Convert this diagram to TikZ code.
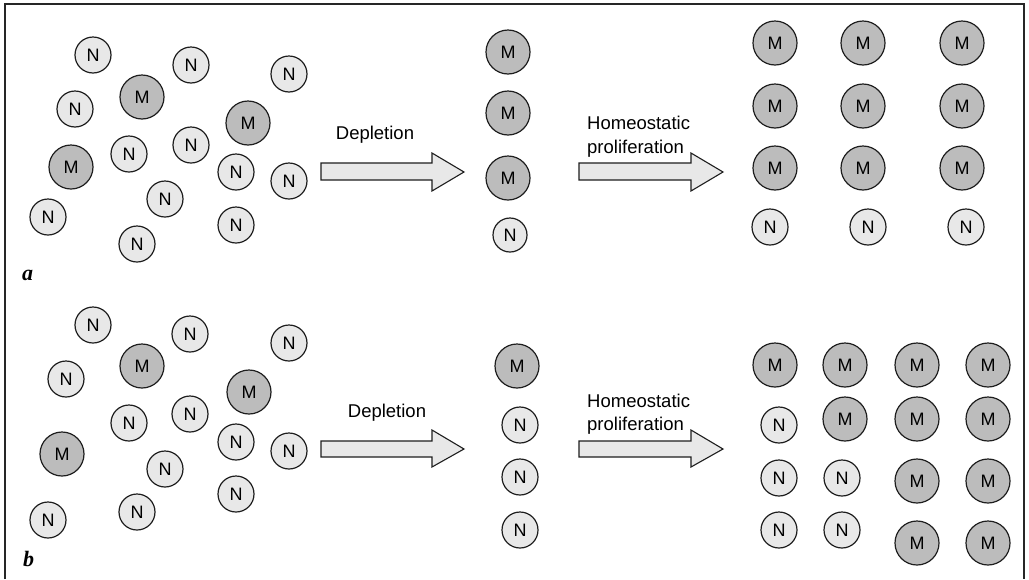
\documentclass[tikz,border=0pt]{standalone}
\usepackage{fontspec}
\setmainfont{Liberation Sans}
\newfontfamily\labelserif{Liberation Serif}
\definecolor{ngray}{HTML}{E8E8E8}
\definecolor{mgray}{HTML}{BCBCBC}
\definecolor{edge}{HTML}{1E1E1E}
\begin{document}
\begin{tikzpicture}[x=1pt,y=-1pt,
  ncell/.style={circle,draw=edge,fill=ngray,line width=1.2pt,minimum size=36pt,inner sep=0pt,font=\fontsize{18}{18}\selectfont},
  mcell/.style={circle,draw=edge,fill=mgray,line width=1.2pt,minimum size=44pt,inner sep=0pt,font=\fontsize{18}{18}\selectfont},
  blockarrow/.style={draw=edge,fill=ngray,line width=1.1pt,line join=miter},
  caption/.style={font=\fontsize{18.5}{22}\selectfont,inner sep=0pt},
  panellabel/.style={font=\labelserif\bfseries\itshape\fontsize{22}{22}\selectfont,inner sep=0pt,anchor=base west}]
\useasboundingbox (0,0) rectangle (1029,579);
\fill[white] (0,0) rectangle (1029,579);
\draw[line width=2pt,color=black!85] (5,579) -- (5,4) -- (1024,4) -- (1024,579);

% ---------- panel a : left cluster ----------
\node[ncell] (a1) at (93,55) {N};
\node[ncell] (a2) at (191,65) {N};
\node[ncell] (a3) at (289,74) {N};
\node[ncell] (a4) at (75,109) {N};
\node[mcell] (a5) at (142,97) {M};
\node[mcell] (a6) at (248,123) {M};
\node[ncell] (a7) at (191,145) {N};
\node[ncell] (a8) at (129,154) {N};
\node[mcell] (a9) at (71,167) {M};
\node[ncell] (a10) at (236,172) {N};
\node[ncell] (a11) at (289,181) {N};
\node[ncell] (a12) at (165,199) {N};
\node[ncell] (a13) at (48,217) {N};
\node[ncell] (a14) at (236,225) {N};
\node[ncell] (a15) at (137,244) {N};
\node[panellabel] (la) at (22,280) {a};

% arrows a
\draw[blockarrow] (321,163) -- (432,163) -- (432,153) -- (464,172) -- (432,191) -- (432,180) -- (321,180) -- cycle;
\node[caption,anchor=base] (dep1) at (375,139) {Depletion};
\draw[blockarrow] (579,163) -- (691,163) -- (691,153) -- (723,172) -- (691,191) -- (691,180) -- (579,180) -- cycle;
\node[caption,anchor=base west] (hom1) at (587,129) {Homeostatic};
\node[caption,anchor=base west] (pro1) at (587,153) {proliferation};

% middle a
\node[mcell] (am1) at (508,52) {M};
\node[mcell] (am2) at (508,113) {M};
\node[mcell] (am3) at (508,178) {M};
\node[ncell,minimum size=34pt] (am4) at (510,235) {N};

% right a
\node[mcell] (ar1) at (775,43) {M};
\node[mcell] (ar2) at (863,43) {M};
\node[mcell] (ar3) at (962,43) {M};
\node[mcell] (ar4) at (775,106) {M};
\node[mcell] (ar5) at (863,106) {M};
\node[mcell] (ar6) at (962,106) {M};
\node[mcell] (ar7) at (775,168) {M};
\node[mcell] (ar8) at (863,168) {M};
\node[mcell] (ar9) at (962,168) {M};
\node[ncell] (ar10) at (770,227) {N};
\node[ncell] (ar11) at (868,227) {N};
\node[ncell] (ar12) at (966,227) {N};

% ---------- panel b : left cluster ----------
\node[ncell] (b1) at (93,325) {N};
\node[ncell] (b2) at (190,334) {N};
\node[ncell] (b3) at (289,343) {N};
\node[mcell] (b4) at (142,366) {M};
\node[ncell] (b5) at (66,379) {N};
\node[mcell] (b6) at (249,392) {M};
\node[ncell] (b7) at (190,414) {N};
\node[ncell] (b8) at (129,423) {N};
\node[mcell] (b9) at (62,454) {M};
\node[ncell] (b10) at (236,442) {N};
\node[ncell] (b11) at (289,451) {N};
\node[ncell] (b12) at (165,469) {N};
\node[ncell] (b13) at (236,494) {N};
\node[ncell] (b14) at (137,512) {N};
\node[ncell] (b15) at (48,520) {N};
\node[panellabel] (lb) at (23,566) {b};

% arrows b
\draw[blockarrow] (321,441) -- (432,441) -- (432,430) -- (464,449) -- (432,467) -- (432,457) -- (321,457) -- cycle;
\node[caption,anchor=base] (dep2) at (387,417) {Depletion};
\draw[blockarrow] (579,441) -- (691,441) -- (691,430) -- (723,449) -- (691,467) -- (691,457) -- (579,457) -- cycle;
\node[caption,anchor=base west] (hom2) at (587,407) {Homeostatic};
\node[caption,anchor=base west] (pro2) at (587,430) {proliferation};

% middle b
\node[mcell] (bm1) at (517,366) {M};
\node[ncell] (bm2) at (520,425) {N};
\node[ncell] (bm3) at (520,477) {N};
\node[ncell] (bm4) at (520,530) {N};

% right b
\node[mcell] (br1) at (775,365) {M};
\node[mcell] (br2) at (845,365) {M};
\node[mcell] (br3) at (917,365) {M};
\node[mcell] (br4) at (988,365) {M};
\node[ncell] (br5) at (779,425) {N};
\node[mcell] (br6) at (845,419) {M};
\node[mcell] (br7) at (917,419) {M};
\node[mcell] (br8) at (988,419) {M};
\node[ncell] (br9) at (779,478) {N};
\node[ncell] (br10) at (842,478) {N};
\node[mcell] (br11) at (917,481) {M};
\node[mcell] (br12) at (988,481) {M};
\node[ncell] (br13) at (779,530) {N};
\node[ncell] (br14) at (842,530) {N};
\node[mcell] (br15) at (917,543) {M};
\node[mcell] (br16) at (988,543) {M};
\end{tikzpicture}
\end{document}
